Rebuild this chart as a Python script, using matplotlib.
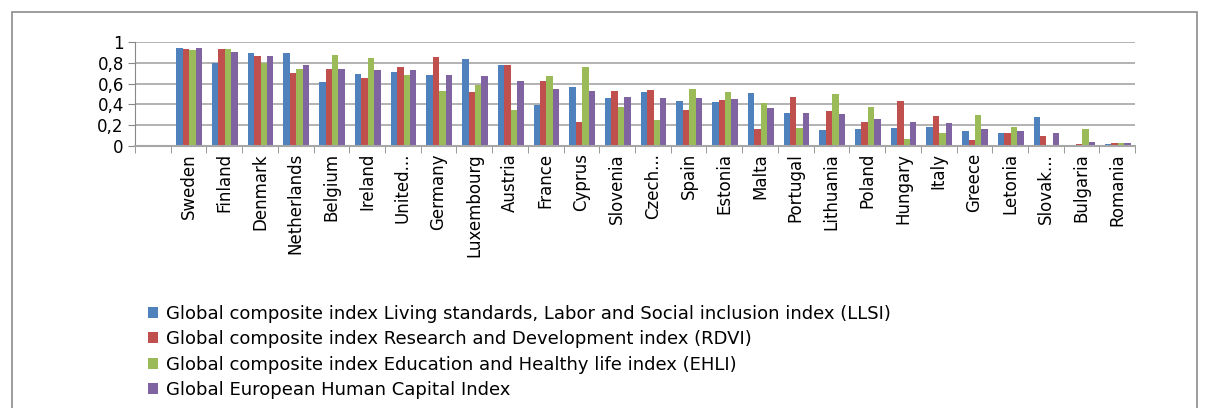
import numpy as np
import matplotlib.pyplot as plt
from matplotlib.patches import Rectangle

# first category is empty in the original chart
countries = ["", "Sweden", "Finland", "Denmark", "Netherlands", "Belgium", "Ireland",
             "United...", "Germany", "Luxembourg", "Austria", "France", "Cyprus",
             "Slovenia", "Czech...", "Spain", "Estonia", "Malta", "Portugal",
             "Lithuania", "Poland", "Hungary", "Italy", "Greece", "Letonia",
             "Slovak...", "Bulgaria", "Romania"]

llsi = [np.nan, 0.94, 0.80, 0.89, 0.89, 0.62, 0.69, 0.71, 0.68, 0.84, 0.78, 0.39, 0.57,
        0.46, 0.52, 0.43, 0.42, 0.51, 0.32, 0.15, 0.16, 0.17, 0.18, 0.14, 0.13,
        0.28, 0.01, 0.02]
rdvi = [np.nan, 0.93, 0.93, 0.87, 0.70, 0.74, 0.65, 0.76, 0.86, 0.52, 0.78, 0.63, 0.23,
        0.53, 0.54, 0.35, 0.44, 0.16, 0.47, 0.34, 0.23, 0.43, 0.29, 0.06, 0.13,
        0.10, 0.02, 0.03]
ehli = [np.nan, 0.92, 0.93, 0.80, 0.74, 0.88, 0.85, 0.68, 0.53, 0.59, 0.35, 0.67, 0.76,
        0.38, 0.25, 0.55, 0.52, 0.41, 0.17, 0.50, 0.38, 0.07, 0.13, 0.30, 0.18,
        0.005, 0.16, 0.03]
hci = [np.nan, 0.94, 0.90, 0.87, 0.78, 0.74, 0.73, 0.73, 0.68, 0.67, 0.63, 0.55, 0.53,
       0.47, 0.46, 0.46, 0.45, 0.37, 0.32, 0.31, 0.26, 0.23, 0.22, 0.16, 0.14,
       0.13, 0.04, 0.03]

series_names = [
    "Global composite index Living standards, Labor and Social inclusion index (LLSI)",
    "Global composite index Research and Development index (RDVI)",
    "Global composite index Education and Healthy life index (EHLI)",
    "Global European Human Capital Index",
]
colors = ["#4F81BD", "#C0504D", "#9BBB59", "#8064A2"]
yticks = [0, 0.2, 0.4, 0.6, 0.8, 1]
ytick_labels = ["0", "0,2", "0,4", "0,6", "0,8", "1"]

plt.rcParams["font.family"] = ["DejaVu Sans"]

fig = plt.figure(figsize=(12.05, 4.08), dpi=100)
ax = fig.add_axes([0.112, 0.642, 0.830, 0.255])

x = np.arange(len(countries))
w = 0.18
for i, (vals, col, name) in enumerate(zip([llsi, rdvi, ehli, hci], colors, series_names)):
    ax.bar(x + (i - 1.4) * w, vals, width=w, color=col, edgecolor="none", label=name)

ax.set_xlim(-0.5, len(countries) - 0.5)
ax.set_ylim(0, 1)
ax.set_yticks(yticks)
ax.set_yticklabels(ytick_labels, fontsize=12)
ax.set_xticks(x)
ax.set_xticklabels(countries, rotation=90, fontsize=12)
ax.set_xticks(np.arange(len(countries) + 1) - 0.5, minor=True)
ax.tick_params(axis="x", which="major", length=0, pad=5)
ax.tick_params(axis="x", which="minor", length=5, color="#888888")
ax.tick_params(axis="y", length=5, color="#888888", pad=3)
ax.grid(axis="y", color="#A6A6A6", linewidth=1.2)
ax.set_axisbelow(True)
for side in ["top", "right"]:
    ax.spines[side].set_visible(False)
ax.spines["left"].set_color("#888888")
ax.spines["bottom"].set_color("#A6A6A6")
ax.spines["bottom"].set_linewidth(1.5)

fig.legend(loc="upper left", bbox_to_anchor=(0.117, 0.27), frameon=False,
           fontsize=13, handlelength=0.55, handleheight=0.55, handletextpad=0.45,
           labelspacing=0.4, borderaxespad=0)

# outer chart border
fig.patches.append(Rectangle((0.010, -0.05), 0.983, 1.02, transform=fig.transFigure,
                             fill=False, edgecolor="#8C8C8C", linewidth=1.2))

plt.savefig("out.png", dpi=100)
